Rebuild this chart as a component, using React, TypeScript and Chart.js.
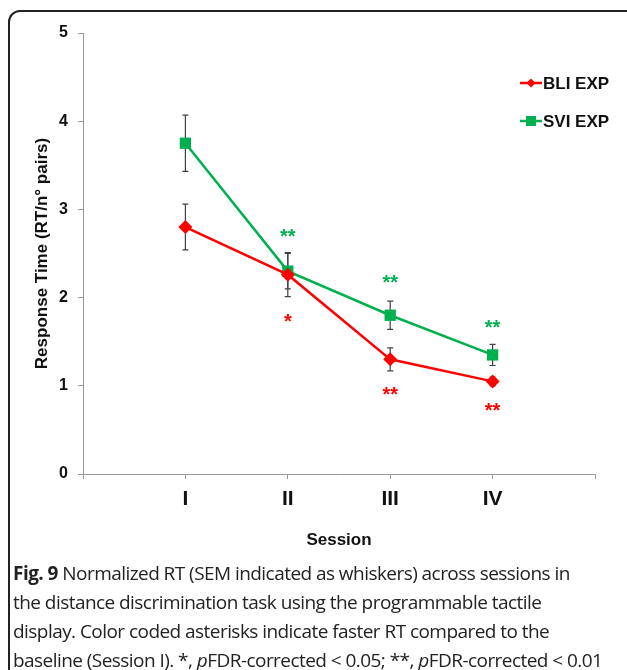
import React, { useEffect, useRef } from "react";
import { Chart, registerables } from "chart.js";

Chart.register(...registerables);

// ---- data ----
const sessionLabels = ["I", "II", "III", "IV"];
const sessionX = [1, 2, 3, 4];

const bliMean = [2.8, 2.26, 1.3, 1.05];
const bliSem = [0.26, 0.25, 0.13, 0.05];
const sviMean = [3.75, 2.3, 1.8, 1.35];
const sviSem = [0.32, 0.2, 0.16, 0.12];

// significance marks (text and y position in data units)
const bliStars = ["", "*", "**", "**"];
const bliStarY = [0, 1.76, 0.94, 0.75];
const sviStars = ["", "**", "**", "**"];
const sviStarY = [0, 2.73, 2.21, 1.69];

const yTicks = [0, 1, 2, 3, 4, 5];

const RED = "#FF0000";
const GREEN = "#00B050";
const FONT = "Arial, 'Liberation Sans', sans-serif";

const errorBarPlugin = {
  id: "errorBars",
  beforeDatasetsDraw(chart: any) {
    const ctx = chart.ctx;
    const x = chart.scales.x;
    const y = chart.scales.y;
    const sets = [
      { m: bliMean, e: bliSem },
      { m: sviMean, e: sviSem },
    ];
    ctx.save();
    ctx.strokeStyle = "#404040";
    ctx.lineWidth = 1.2;
    sets.forEach((s) => {
      s.m.forEach((v, i) => {
        const px = x.getPixelForValue(sessionX[i]);
        const top = y.getPixelForValue(v + s.e[i]);
        const bot = y.getPixelForValue(v - s.e[i]);
        ctx.beginPath();
        ctx.moveTo(px, top);
        ctx.lineTo(px, bot);
        ctx.moveTo(px - 3, top);
        ctx.lineTo(px + 3, top);
        ctx.moveTo(px - 3, bot);
        ctx.lineTo(px + 3, bot);
        ctx.stroke();
      });
    });
    ctx.restore();
  },
  afterDatasetsDraw(chart: any) {
    const ctx = chart.ctx;
    const x = chart.scales.x;
    const y = chart.scales.y;
    ctx.save();
    ctx.font = "bold 20px " + FONT;
    ctx.textAlign = "center";
    ctx.textBaseline = "middle";
    const draw = (stars: string[], ys: number[], color: string) => {
      ctx.fillStyle = color;
      stars.forEach((s, i) => {
        if (!s) return;
        ctx.fillText(s, x.getPixelForValue(sessionX[i]), y.getPixelForValue(ys[i]) + 4);
      });
    };
    draw(sviStars, sviStarY, GREEN);
    draw(bliStars, bliStarY, RED);

    // legend
    const items = [
      { label: "BLI EXP", color: RED, shape: "diamond", cy: 83 },
      { label: "SVI EXP", color: GREEN, shape: "square", cy: 121 },
    ];
    ctx.font = "bold 17px " + FONT;
    ctx.textAlign = "left";
    items.forEach((it) => {
      ctx.strokeStyle = it.color;
      ctx.fillStyle = it.color;
      ctx.lineWidth = 2.5;
      ctx.beginPath();
      ctx.moveTo(520, it.cy);
      ctx.lineTo(542, it.cy);
      ctx.stroke();
      const cx = 531;
      ctx.beginPath();
      if (it.shape === "diamond") {
        ctx.moveTo(cx, it.cy - 4.5);
        ctx.lineTo(cx + 4.5, it.cy);
        ctx.lineTo(cx, it.cy + 4.5);
        ctx.lineTo(cx - 4.5, it.cy);
        ctx.closePath();
      } else {
        ctx.rect(cx - 5, it.cy - 5, 10, 10);
      }
      ctx.fill();
      ctx.fillStyle = "#111";
      ctx.fillText(it.label, 543, it.cy + 1);
    });
    ctx.restore();
  },
};

function App() {
  const ref = useRef<HTMLCanvasElement | null>(null);
  useEffect(() => {
    if (!ref.current) return;
    const chart = new Chart(ref.current, {
      type: "line",
      data: {
        datasets: [
          {
            label: "BLI EXP",
            data: sessionX.map((x, i) => ({ x, y: bliMean[i] })),
            borderColor: RED,
            backgroundColor: RED,
            borderWidth: 2.5,
            pointStyle: "rectRot",
            pointRadius: 7,
            pointBorderWidth: 0,
            tension: 0,
          },
          {
            label: "SVI EXP",
            data: sessionX.map((x, i) => ({ x, y: sviMean[i] })),
            borderColor: GREEN,
            backgroundColor: GREEN,
            borderWidth: 2.5,
            pointStyle: "rect",
            pointRadius: 8,
            pointBorderWidth: 0,
            tension: 0,
          },
        ],
      },
      options: {
        animation: false,
        responsive: false,
        maintainAspectRatio: false,
        layout: { padding: { left: 0, top: 33, right: 32, bottom: 0 } },
        plugins: {
          legend: { display: false },
          tooltip: { enabled: false },
        },
        scales: {
          x: {
            type: "linear",
            min: 0,
            max: 5,
            afterFit: (s: any) => {
              s.height = 86;
            },
            afterBuildTicks: (s: any) => {
              s.ticks = [0, 1, 2, 3, 4, 5].map((v) => ({ value: v }));
            },
            ticks: {
              stepSize: 1,
              autoSkip: false,
              maxRotation: 0,
              padding: 8,
              color: "#111",
              font: { family: FONT, size: 21, weight: "bold" },
              callback: (v: any) => sessionLabels[sessionX.indexOf(Number(v))] ?? "",
            },
            grid: { drawOnChartArea: false, tickLength: 5, color: "#999" },
            border: { display: true, color: "#999", width: 1 },
            title: {
              display: true,
              text: "Session",
              color: "#111",
              font: { family: FONT, size: 17, weight: "bold" },
              padding: { top: 0, bottom: 9 },
            },
          },
          y: {
            type: "linear",
            min: 0,
            max: 5,
            afterFit: (s: any) => {
              s.width = 83;
            },
            afterBuildTicks: (s: any) => {
              s.ticks = yTicks.map((v) => ({ value: v }));
            },
            ticks: {
              stepSize: 1,
              padding: 10,
              color: "#111",
              font: { family: FONT, size: 16, weight: "bold" },
            },
            grid: { drawOnChartArea: false, tickLength: 5, color: "#999" },
            border: { display: true, color: "#999", width: 1 },
            title: {
              display: true,
              text: "Response Time (RT/n° pairs)",
              color: "#111",
              font: { family: FONT, size: 17, weight: "bold" },
              padding: { top: 32, bottom: 0 },
            },
          },
        },
      },
      plugins: [errorBarPlugin],
    } as any);
    return () => chart.destroy();
  }, []);

  return (
    <div
      style={{
        position: "fixed",
        left: 0,
        top: 0,
        width: 627,
        height: 670,
        overflow: "hidden",
        background: "#fff",
      }}
    >
      <div
        style={{
          position: "absolute",
          left: 8,
          top: 10,
          width: 700,
          height: 700,
          border: "2px solid #222",
          borderRadius: 12,
          boxSizing: "border-box",
        }}
      />
      <canvas
        ref={ref}
        width={627}
        height={560}
        style={{ position: "absolute", left: 0, top: 0, width: 627, height: 560 }}
      />
      <div
        style={{
          position: "absolute",
          left: 13,
          top: 559,
          whiteSpace: "nowrap",
          fontFamily: "'Open Sans', 'Noto Sans', sans-serif",
          fontSize: 19,
          lineHeight: "29px",
          color: "#222",
          letterSpacing: -0.55,
        }}
      >
        <b>Fig. 9</b> Normalized RT (SEM indicated as whiskers) across sessions in
        <br />
        the distance discrimination task using the programmable tactile
        <br />
        display. Color coded asterisks indicate faster RT compared to the
        <br />
        baseline (Session I). *, <i>p</i>FDR-corrected &lt; 0.05; **, <i>p</i>FDR-corrected &lt; 0.01
      </div>
    </div>
  );
}

export default App;
